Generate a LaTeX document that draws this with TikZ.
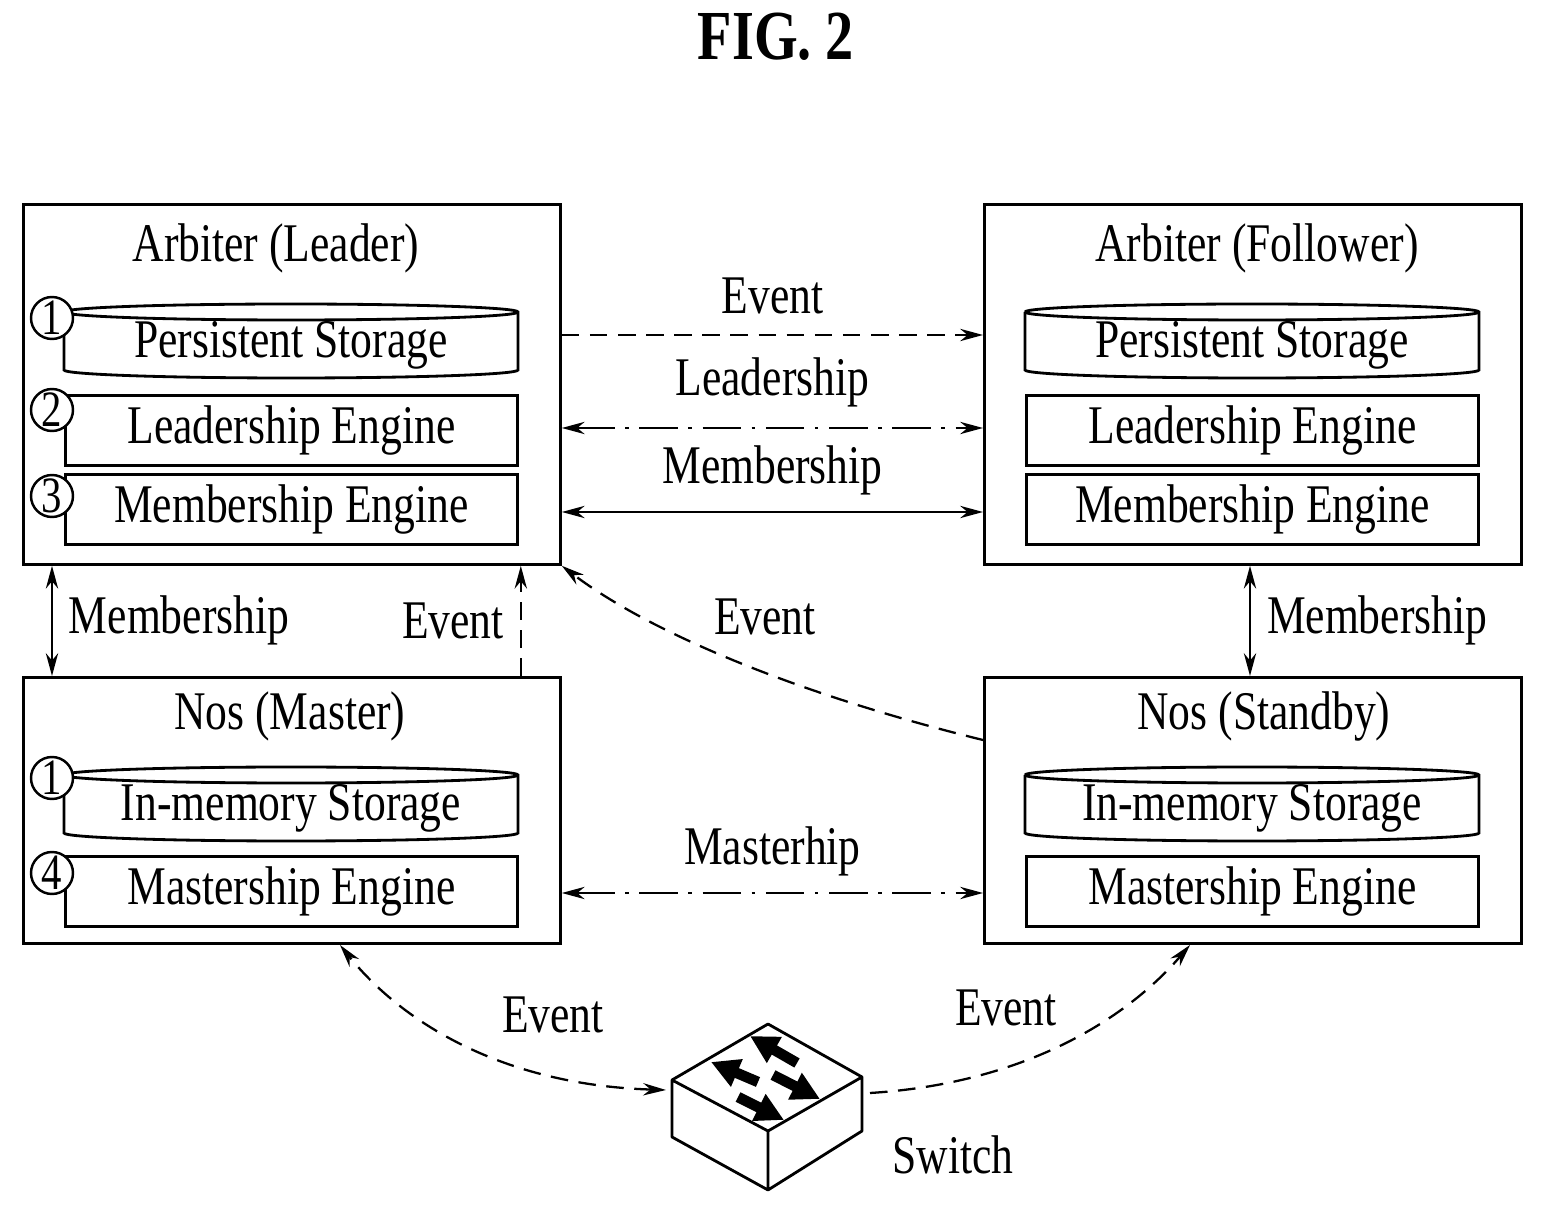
\documentclass[tikz,border=0pt]{standalone}
\usepackage{fontspec}
\setmainfont{Liberation Serif}[FakeStretch=0.8]
\usetikzlibrary{arrows.meta,positioning,calc}

\def\u{0.02cm}
\tikzset{
	box/.style={draw, line width=1.6pt, minimum width=537*\u, anchor=north west, inner sep=0},
	comp/.style={draw, line width=1.6pt, minimum width=452*\u, minimum height=70*\u, anchor=north west, inner sep=0, font=\fontsize{31}{31}\selectfont, yshift=2*\u},
	num/.style={draw, circle, line width=1.4pt, fill=white, minimum size=42*\u, inner sep=0, font=\fontsize{29}{29}\selectfont},
	lbl/.style={font=\fontsize{31}{31}\selectfont},
	tip/.style={-{Stealth[length=13pt,width=7pt]}},
	both/.style={{Stealth[length=13pt,width=7pt]}-{Stealth[length=13pt,width=7pt]}},
	dsh/.style={line width=1.3pt, dash pattern=on 10pt off 6pt},
	dshdot/.style={line width=1.3pt, dash pattern=on 22pt off 6pt on 2pt off 6pt},
}
% cylinder: x, y (top), name, text
\newcommand{\storage}[4]{
	\draw[line width=1.6pt, fill=white] (#1,#2+7) -- (#1,#2+65) arc[start angle=180, end angle=360, x radius=227*\u, y radius=8*\u] -- (#1+454,#2+7) arc[start angle=0, end angle=180, x radius=227*\u, y radius=8*\u];
	\draw[line width=1.6pt] (#1,#2+7) arc[start angle=180, end angle=360, x radius=227*\u, y radius=8*\u];
	\node[lbl] (#3) at (#1+227,#2+40) {#4};
}

\begin{document}
\begin{tikzpicture}[x=\u, y=-\u]
\useasboundingbox (0,0) rectangle (1543,1212);

\node[font=\bfseries\fontsize{40}{40}\selectfont] (fig) at (776,37) {FIG. 2};

% arbiters
\node[box, minimum height=360*\u] (leader) at (22,203) {};
\node[lbl] (leadert) at (276,248) {Arbiter (Leader)};
\storage{64}{305}{ps1}{Persistent Storage}
\node[comp] (le1) at (64,396) {Leadership Engine};
\node[comp] (me1) at (64,475) {Membership Engine};
\node[num] (n1) at (52,318) {1};
\node[num] (n2) at (52,410) {2};
\node[num] (n3) at (52,496) {3};

\node[box, minimum height=360*\u] (follower) at (983,203) {};
\node[lbl] (followert) at (1257,248) {Arbiter (Follower)};
\storage{1025}{305}{ps2}{Persistent Storage}
\node[comp] (le2) at (1025,396) {Leadership Engine};
\node[comp] (me2) at (1025,475) {Membership Engine};

% nos
\node[box, minimum height=266*\u] (master) at (22,676) {};
\node[lbl] (mastert) at (290,716) {Nos (Master)};
\storage{64}{768}{im1}{In-memory Storage}
\node[comp] (ms1) at (64,857) {Mastership Engine};
\node[num] (n4) at (52,778) {1};
\node[num] (n5) at (52,873) {4};

\node[box, minimum height=266*\u] (standby) at (983,676) {};
\node[lbl] (standbyt) at (1264,716) {Nos (Standby)};
\storage{1025}{768}{im2}{In-memory Storage}
\node[comp] (ms2) at (1025,857) {Mastership Engine};

% switch
\coordinate (sw) at (768,1080);
\draw[line width=1.6pt, line join=round] (672,1080) -- (768,1024) -- (862,1077) -- (768,1131) -- cycle
	(672,1080) -- (672,1137) -- (768,1190) -- (862,1131) -- (862,1077) (768,1131) -- (768,1190);
\foreach \a/\b/\c/\d in {797/1063/750/1036, 758/1082/711/1062, 773/1075/820/1099, 738/1097/784/1120}
	\draw[line width=6pt, -{Triangle[length=16pt,width=16pt]}] (\a,\b) -- (\c,\d);
\node[lbl] (swt) at (953,1155) {Switch};
\coordinate (swl) at (666,1090);
\coordinate (swr) at (870,1093);

% connectors
\draw[dsh, tip] (leader.east |- 0,335) -- (follower.west |- 0,335) node[lbl, midway, above=14*\u] {Event};
\draw[dshdot, both] (leader.east |- 0,428) -- (follower.west |- 0,428) node[lbl, midway, above=14*\u] {Leadership};
\draw[line width=1.3pt, both] (leader.east |- 0,512) -- (follower.west |- 0,512) node[lbl, midway, above=10*\u] {Membership};
\draw[line width=1.3pt, both] (leader.south west) ++(30,0) coordinate (a1) -- (a1 |- master.north) node[lbl, midway, right=10*\u] {Membership};
\draw[dsh, tip] (master.north east) ++(-41,0) coordinate (a2) -- (a2 |- leader.south) node[lbl, midway, left=10*\u] {Event};
\draw[line width=1.3pt, both] (follower.south west) ++(267,0) coordinate (a3) -- (a3 |- standby.north) node[lbl, midway, right=10*\u] {Membership};
\draw[dsh, tip] (standby.west |- 0,740) .. controls (820,700) and (660,640) .. (leader.south east);
\node[lbl] (ev1) at (765,617) {Event};
\draw[dshdot, both] (master.east |- 0,893) -- (standby.west |- 0,893) node[lbl, midway, above=10*\u] {Masterhip};
\draw[dsh, both] (swl) .. controls (500,1085) and (400,1020) .. (340,945);
\node[lbl] (ev2) at (553,1015) {Event};
\draw[dsh, tip] (swr) .. controls (1030,1083) and (1130,1015) .. (1190,945);
\node[lbl] (ev3) at (1006,1008) {Event};
\end{tikzpicture}
\end{document}
